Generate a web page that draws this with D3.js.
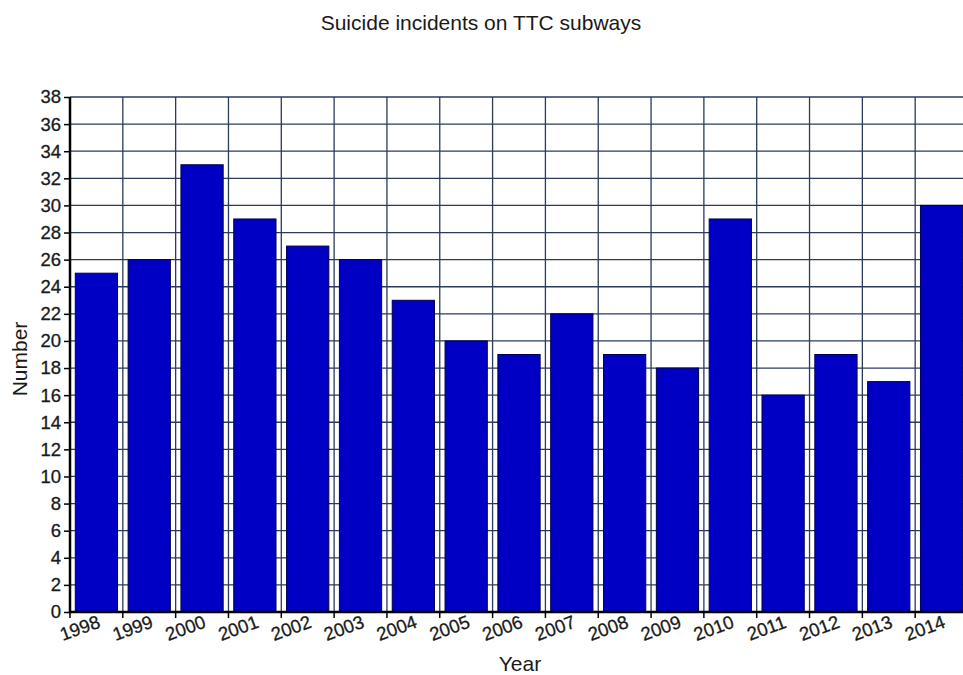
<!DOCTYPE html>
<html>
<head>
<meta charset="utf-8">
<script src="https://cdn.jsdelivr.net/npm/d3@7"></script>
<style>
  body { margin: 0; background: #fff; }
  svg { display: block; font-family: "Liberation Sans", Arial, sans-serif; }
</style>
</head>
<body>
<div id="chart"></div>
<script>
// year categories and incident counts
var years = ["1998", "1999", "2000", "2001", "2002", "2003", "2004", "2005", "2006",
             "2007", "2008", "2009", "2010", "2011", "2012", "2013", "2014"];
var incidents = [25, 26, 33, 29, 27, 26, 23, 20, 19, 22, 19, 18, 29, 16, 19, 17, 30];
var yTicks = d3.range(0, 39, 2);

var width = 963, height = 675;
var margin = {top: 97, left: 70, bottom: 612, right: 968};

var svg = d3.select("#chart").append("svg")
  .attr("width", width)
  .attr("height", height);

var x = d3.scaleBand()
  .domain(years)
  .range([margin.left, margin.right])
  .paddingInner(0.2)
  .paddingOuter(0.1);

var y = d3.scaleLinear()
  .domain([0, 38])
  .range([margin.bottom, margin.top]);

var step = x.step();
// left edge of each band, where the grid lines and ticks go
function edge(d) { return x(d) - step * x.paddingInner() / 2; }

var grid = svg.append("g").attr("class", "grid");

grid.selectAll(".hline")
  .data(yTicks)
  .enter().append("line")
  .attr("x1", margin.left)
  .attr("x2", margin.right)
  .attr("y1", function(d) { return y(d); })
  .attr("y2", function(d) { return y(d); })
  .style("stroke", "#2a3b5c")
  .style("stroke-width", 1.3);

grid.selectAll(".vline")
  .data(years.slice(1))
  .enter().append("line")
  .attr("x1", function(d) { return edge(d); })
  .attr("x2", function(d) { return edge(d); })
  .attr("y1", margin.top)
  .attr("y2", margin.bottom)
  .style("stroke", "#2a3b5c")
  .style("stroke-width", 1.3);

// bars
svg.selectAll(".bar")
  .data(incidents)
  .enter().append("rect")
  .attr("class", "bar")
  .attr("x", function(d, i) { return x(years[i]); })
  .attr("y", function(d) { return y(d); })
  .attr("width", x.bandwidth())
  .attr("height", function(d) { return y(0) - y(d); })
  .style("fill", "#0000c4")
  .style("stroke", "#000050")
  .style("stroke-width", 1);

// y axis
var yAxis = d3.axisLeft(y)
  .tickValues(yTicks)
  .tickSize(6)
  .tickPadding(3);

var gy = svg.append("g")
  .attr("transform", "translate(" + margin.left + ",0)")
  .call(yAxis);
gy.select(".domain").remove();
gy.selectAll(".tick line").style("stroke", "#000").style("stroke-width", 1.5);
gy.selectAll(".tick text")
  .style("font-size", "18.5px")
  .style("fill", "#1a1a1a")
  .style("stroke", "#1a1a1a")
  .style("stroke-width", 0.3);

svg.append("line")
  .attr("x1", margin.left).attr("x2", margin.left)
  .attr("y1", margin.top).attr("y2", margin.bottom + 1)
  .style("stroke", "#000")
  .style("stroke-width", 2.5);

// x axis
svg.append("line")
  .attr("x1", margin.left - 1).attr("x2", margin.right)
  .attr("y1", margin.bottom).attr("y2", margin.bottom)
  .style("stroke", "#000")
  .style("stroke-width", 2.5);

var xt = svg.append("g").selectAll(".xtick")
  .data(years)
  .enter().append("g")
  .attr("transform", function(d) { return "translate(" + edge(d) + "," + margin.bottom + ")"; });

xt.append("line")
  .attr("y1", 0).attr("y2", 6)
  .style("stroke", "#000")
  .style("stroke-width", 1.5);

xt.append("text")
  .attr("transform", "translate(12,22) rotate(-20)")
  .attr("text-anchor", "middle")
  .style("font-size", "18.5px")
  .style("fill", "#1a1a1a")
  .style("stroke", "#1a1a1a")
  .style("stroke-width", 0.3)
  .text(function(d) { return d; });

// titles
svg.append("text")
  .attr("x", 481)
  .attr("y", 30)
  .attr("text-anchor", "middle")
  .style("font-size", "21px")
  .style("fill", "#1a1a1a")
  .text("Suicide incidents on TTC subways");

svg.append("text")
  .attr("x", 520)
  .attr("y", 671)
  .attr("text-anchor", "middle")
  .style("font-size", "21px")
  .style("fill", "#1a1a1a")
  .text("Year");

svg.append("text")
  .attr("transform", "translate(27,359) rotate(-90)")
  .attr("text-anchor", "middle")
  .style("font-size", "21px")
  .style("fill", "#1a1a1a")
  .text("Number");
</script>
</body>
</html>
